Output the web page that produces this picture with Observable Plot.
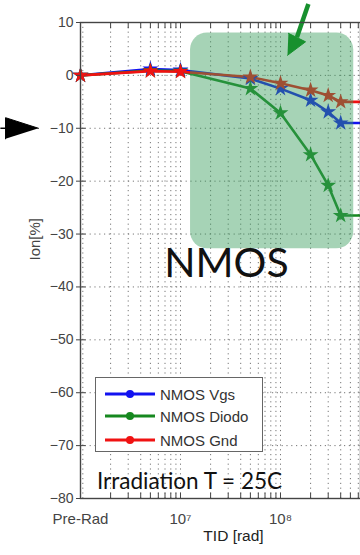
<!DOCTYPE html>
<html><head><meta charset="utf-8">
<script src="https://cdn.jsdelivr.net/npm/d3@7"></script>
<script src="https://cdn.jsdelivr.net/npm/@observablehq/plot@0.6"></script>
<style>
body{margin:0;background:#fff;overflow:hidden}
#wrap{position:relative;width:360px;height:555px}
#legend{position:absolute;left:95px;top:377px;width:168px;height:75px;border:1.5px solid #666;background:#fff;box-sizing:border-box;font:15px 'Liberation Sans',Arial,sans-serif;color:#333}
.row{position:absolute;left:0;height:20px;display:flex;align-items:center}
.row svg{display:block}
</style></head>
<body><div id="wrap"><div id="legend"></div></div>
<script>
// ---- data ----
const seriesNames = ["NMOS Vgs", "NMOS Diodo", "NMOS Gnd"];
const seriesColors = ["#1212f0", "#16881f", "#f01212"];
const tid   = [1e6, 5e6, 1e7, 5e7, 1e8, 2e8, 3e8, 4e8];   // 1e6 = "Pre-Rad"
const vgs   = [0, 1.2, 1.0, -0.6, -2.5, -4.7, -6.9, -9.0];
const diodo = [0, 0.9, 0.8, -2.5, -7.1, -15.0, -20.8, -26.5];
const gnd   = [0, 0.8, 0.7, -0.3, -1.5, -2.8, -3.8, -5.0];
const tidTail = 1e9; // curves continue flat to the (cropped) right edge
const xTickVals = [1e6, 1e7, 1e8];
const xTickLabels = ["Pre-Rad", "10\u2077", "10\u2078"];
const yTicks = [-80, -70, -60, -50, -40, -30, -20, -10, 0, 10];
const xGrid = [2e6,3e6,4e6,5e6,6e6,7e6,8e6,9e6,1e7,2e7,3e7,4e7,5e7,6e7,7e7,8e7,9e7,1e8,2e8,3e8,4e8,5e8,6e8];
// annotations (data coordinates)
const boxX = [1.26e7, 5.4e8], boxY = [-32.8, 8.0];
const greenShaft = [[1.9e8, 13.5], [1.46e8, 7.2]];
const greenHead = [[1.175e8, 3.8], [1.78e8, 6.35], [1.2e8, 7.95]];
const blackShaft = [[1.58e5, -10], [2.0e5, -10]];
const blackHead = [[3.8e5, -10], [1.78e5, -8.0], [1.78e5, -12.0]];

// ---- tables ----
const values = [vgs, diodo, gnd];
const rows = [];
seriesNames.forEach((s, k) => tid.forEach((t, i) => rows.push({series: s, tid: t, val: values[k][i]})));
const lineRows = [];
seriesNames.forEach((s, k) => {
  tid.forEach((t, i) => lineRows.push({series: s, tid: t, val: values[k][i]}));
  lineRows.push({series: s, tid: tidTail, val: values[k][values[k].length - 1]});
});
const xLabelMap = new Map(xTickVals.map((v, i) => [v, xTickLabels[i]]));

const grid = {stroke: "#777", strokeDasharray: "1.2,3.6", strokeWidth: 1};
const green = "#17902e";

const chart = Plot.plot({
  width: 360, height: 555,
  marginLeft: 80, marginRight: 0, marginTop: 22, marginBottom: 57,
  style: {fontFamily: "'Liberation Sans', Arial, sans-serif", color: "#444", background: "#fff"},
  x: {type: "log", domain: [1e6, 6.31e8]},
  y: {domain: [-80, 10]},
  color: {domain: seriesNames, range: seriesColors},
  marks: [
    Plot.ruleX(xGrid, {...grid}),
    Plot.ruleY(yTicks.slice(1, -1), {...grid}),
    Plot.ruleX([1.055e6], {...grid}),
    Plot.link(xGrid, {x1: d => d, x2: d => d, y1: -80, y2: -78.9, stroke: "#444"}),
    Plot.link(xGrid, {x1: d => d, x2: d => d, y1: 10, y2: 8.9, stroke: "#444"}),
    Plot.link(yTicks, {y1: d => d, y2: d => d, x1: 1e6, x2: 1.12e6, stroke: "#444"}),
    Plot.line(lineRows, {x: "tid", y: "val", z: "series", stroke: "series", strokeWidth: 2.6}),
    Plot.dot(rows, {x: "tid", y: "val", fill: "series", symbol: "star", r: 5}),
    Plot.rect([0], {x1: boxX[0], x2: boxX[1], y1: boxY[0], y2: boxY[1], fill: "#3a9d5d", fillOpacity: 0.45, rx: 17}),
    Plot.link([greenShaft], {x1: d => d[0][0], y1: d => d[0][1], x2: d => d[1][0], y2: d => d[1][1], stroke: green, strokeWidth: 4.5}),
    Plot.line(greenHead, {x: d => d[0], y: d => d[1], fill: green, stroke: green, strokeWidth: 1}),
    Plot.link([blackShaft], {x1: d => d[0][0], y1: d => d[0][1], x2: d => d[1][0], y2: d => d[1][1], stroke: "#000", strokeWidth: 1.5}),
    Plot.line(blackHead, {x: d => d[0], y: d => d[1], fill: "#000", stroke: "#000", strokeWidth: 1}),
    Plot.text(["NMOS"], {x: 2.88e7, y: -35.6, text: d => d, fontSize: 41, fill: "#111", fontFamily: "Lato, 'Open Sans', sans-serif", letterSpacing: 4, textAnchor: "middle"}),
    Plot.text(["Irradiation T = 25C"], {x: 1.23e7, y: -76.9, text: d => d, fontSize: 22.5, fill: "#111", fontFamily: "Lato, 'Open Sans', sans-serif", letterSpacing: 0.7, textAnchor: "middle"}),
    Plot.text(["TID [rad]"], {frameAnchor: "bottom", dx: 13, dy: 42, text: d => d, fontSize: 15.5, fill: "#222"}),
    Plot.text(["Ion[%]"], {frameAnchor: "left", dx: -45, text: d => d, rotate: -90, fontSize: 15, fill: "#444"}),
    Plot.frame({stroke: "#444", strokeWidth: 1.4}),
    Plot.axisY({ticks: yTicks, tickSize: 4, tickPadding: 3, fontSize: 14, label: null}),
    Plot.axisX({ticks: xTickVals, tickFormat: d => xLabelMap.get(d), tickSize: 0, tickPadding: 15, fontSize: 15, label: null})
  ]
});
document.getElementById("wrap").prepend(chart);

// legend
const legend = document.getElementById("legend");
const rowTops = [6, 28, 52];
seriesNames.forEach((s, k) => {
  const row = document.createElement("div");
  row.className = "row";
  row.style.top = rowTops[k] + "px";
  row.innerHTML = `<svg width="64" height="20"><line x1="9" x2="59" y1="10" y2="10" stroke="${seriesColors[k]}" stroke-width="3"/><circle cx="34" cy="10" r="4" fill="${seriesColors[k]}"/></svg><span>${s}</span>`;
  legend.appendChild(row);
});
</script>
</body></html>
